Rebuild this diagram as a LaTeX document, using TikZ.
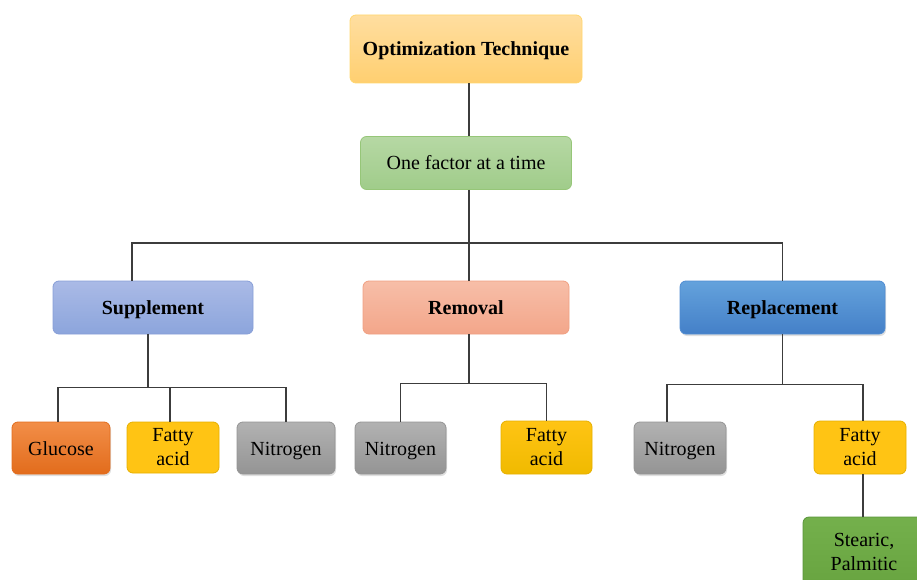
\documentclass[tikz,border=0pt]{standalone}
\usepackage{fontspec}
\setmainfont{Liberation Serif}
\usetikzlibrary{shadows}

\definecolor{optTop}{RGB}{255,222,160}
\definecolor{optBot}{RGB}{255,207,112}
\definecolor{optLine}{RGB}{255,214,110}
\definecolor{oftTop}{RGB}{182,216,164}
\definecolor{oftBot}{RGB}{160,204,138}
\definecolor{oftLine}{RGB}{150,198,120}
\definecolor{supTop}{RGB}{170,186,230}
\definecolor{supBot}{RGB}{140,165,220}
\definecolor{supLine}{RGB}{135,158,215}
\definecolor{remTop}{RGB}{247,190,168}
\definecolor{remBot}{RGB}{243,166,138}
\definecolor{remLine}{RGB}{240,160,130}
\definecolor{repTop}{RGB}{100,162,220}
\definecolor{repBot}{RGB}{68,128,200}
\definecolor{repLine}{RGB}{80,140,210}
\definecolor{gluTop}{RGB}{242,142,72}
\definecolor{gluBot}{RGB}{226,108,28}
\definecolor{fatTop}{RGB}{255,196,20}
\definecolor{fatBot}{RGB}{240,186,0}
\definecolor{fatLine}{RGB}{230,176,0}
\definecolor{nitTop}{RGB}{178,178,178}
\definecolor{nitBot}{RGB}{148,148,148}
\definecolor{steTop}{RGB}{116,176,76}
\definecolor{steBot}{RGB}{104,164,64}
\definecolor{steLine}{RGB}{88,148,58}
\definecolor{wire}{RGB}{60,60,60}

\tikzset{
  box/.style={rounded corners=6pt, inner sep=0pt, align=center,
    font=\fontsize{20}{24}\selectfont, line width=0.8pt},
  oneline/.style={box, text height=18pt, text depth=4pt},
  boldbox/.style={oneline, font=\fontsize{20}{24}\selectfont\bfseries},
  shadowed/.style={drop shadow={opacity=0.25, shadow xshift=1pt, shadow yshift=-2pt}},
  link/.style={draw=wire, line width=1.3pt}
}

\begin{document}
\begin{tikzpicture}[x=1pt, y=-1pt]
    \useasboundingbox (0,0) rectangle (917,580);

    % draw top of the tree
    \node[boldbox, minimum width=232pt, minimum height=68pt,
      top color=optTop, bottom color=optBot, draw=optLine] (opt) at (466,49) {Optimization Technique};
    \node[oneline, minimum width=211pt, minimum height=53pt,
      top color=oftTop, bottom color=oftBot, draw=oftLine] (oft) at (466,163) {One factor at a time};

    % draw the three approaches
    \node[boldbox, minimum width=200pt, minimum height=53pt,
      top color=supTop, bottom color=supBot, draw=supLine] (sup) at (153,307.5) {Supplement};
    \node[boldbox, minimum width=206pt, minimum height=53pt,
      top color=remTop, bottom color=remBot, draw=remLine] (rem) at (466,307.5) {Removal};
    \node[boldbox, shadowed, minimum width=205pt, minimum height=53pt,
      top color=repTop, bottom color=repBot, draw=repLine] (rep) at (782.5,307.5) {Replacement};

    % draw the leaves
    \node[oneline, shadowed, minimum width=98pt, minimum height=52pt,
      top color=gluTop, bottom color=gluBot, draw=gluBot] (glu) at (61,448) {Glucose};
    \node[box, minimum width=92pt, minimum height=51pt,
      fill=fatTop, draw=fatLine] (fat1) at (173,447.5) {Fatty\\acid};
    \node[oneline, shadowed, minimum width=98pt, minimum height=52pt,
      top color=nitTop, bottom color=nitBot, draw=nitBot] (nit1) at (286,448) {Nitrogen};

    \node[oneline, shadowed, minimum width=91pt, minimum height=52pt,
      top color=nitTop, bottom color=nitBot, draw=nitBot] (nit2) at (400.5,448) {Nitrogen};
    \node[box, minimum width=91pt, minimum height=53pt,
      top color=fatTop, bottom color=fatBot, draw=fatLine] (fat2) at (546.5,447.5) {Fatty\\acid};

    \node[oneline, shadowed, minimum width=92pt, minimum height=52pt,
      top color=nitTop, bottom color=nitBot, draw=nitBot] (nit3) at (680,448) {Nitrogen};
    \node[box, minimum width=92pt, minimum height=53pt,
      fill=fatTop, draw=fatLine] (fat3) at (860,447.5) {Fatty\\acid};

    \node[box, minimum width=122pt, minimum height=70pt,
      top color=steTop, bottom color=steBot, draw=steLine] (ste) at (864,552) {Stearic,\\Palmitic};

    % draw the connectors
    \draw[link] (opt.south -| 469,0) coordinate (o1) -- (oft.north -| o1);
    \draw[link] (oft.south -| o1) -- (rem.north -| o1);
    \coordinate (bus) at (469,243);
    \draw[link] (sup.north -| 132,0) |- (bus) -| (rep.north);

    \draw[link] (sup.south -| 148,0) -- ++(0,53) coordinate (sbus);
    \draw[link] (glu.north -| 58,0) |- (sbus) -| (nit1.north);
    \draw[link] (fat1.north -| 170,0) -- (sbus -| 170,0);

    \draw[link] (rem.south -| o1) -- ++(0,49) coordinate (rbus);
    \draw[link] (nit2.north) |- (rbus) -| (fat2.north);

    \draw[link] (rep.south) -- ++(0,50) coordinate (pbus);
    \draw[link] (nit3.north -| 667,0) |- (pbus) -| ([xshift=3pt]fat3.north);
    \draw[link] ([xshift=3pt]fat3.south) -- ([xshift=3pt]fat3.south |- ste.north);
\end{tikzpicture}
\end{document}
